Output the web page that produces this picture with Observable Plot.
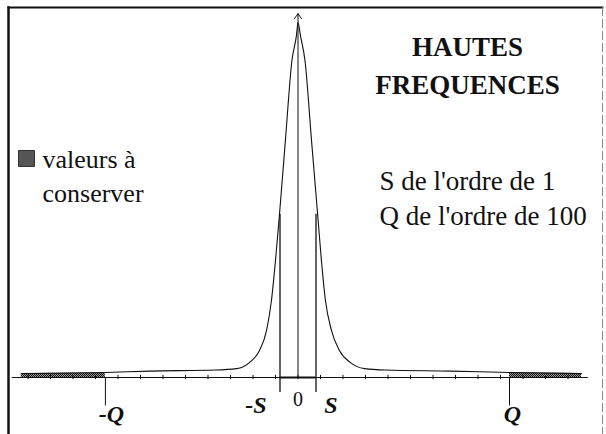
<!DOCTYPE html>
<html>
<head>
<meta charset="utf-8">
<script src="https://cdn.jsdelivr.net/npm/d3@7"></script>
<script src="https://cdn.jsdelivr.net/npm/@observablehq/plot@0.6"></script>
<style>
  html, body { margin: 0; padding: 0; background: #fff; }
</style>
</head>
<body>
<div id="chart"></div>
<script>
// Spectrum profile, x in axis-tick units, y in percent of the peak height
const curveX = [-12.3, -8.56, -6.6, -3.67, -2.73, -2.16, -1.71, -1.4, -1.18, -1.0, -0.82, -0.56, -0.27, -0.07, 0, 0.11, 0.31, 0.6, 0.87, 1.04, 1.22, 1.49, 1.84, 2.33, 2.96, 3.89, 6.8, 9.4, 12.6];
const curveY = [1.1, 1.4, 1.8, 2.1, 2.5, 4.2, 7.6, 13.2, 21.7, 33.0, 46.2, 66.8, 89.3, 96.3, 100, 96.3, 89.3, 66.8, 46.2, 33.0, 21.7, 13.2, 7.6, 4.2, 2.5, 2.1, 1.8, 1.4, 1.1];

// Cut-off markers along the axis
const markerLabels = ["-Q", "-S", "0", "S", "Q"];
const markerX = [-8.56, -0.8, 0, 0.8, 9.4];
const sHeight = 46; // curve height reached by the ±S lines

// Axis graduation
const tickValues = [-12, -11, -10, -9, -8, -7, -6, -5, -4, -3, -2, -1, 0, 1, 2, 3, 4, 5, 6, 7, 8, 9, 10, 11, 12];
const axisExtent = [-12.7, 12.9];
const arrowTop = 102.5;

// Texts
const titleLines = ["HAUTES", "FREQUENCES"];
const legendLines = ["valeurs à", "conserver"];
const noteLines = ["S de l'ordre de 1", "Q de l'ordre de 100"];

const curve = curveX.map((x, i) => ({x, y: curveY[i]}));
const qLeft = markerX[0], qRight = markerX[4];
const sLeft = markerX[1], sRight = markerX[3];
const tailLeft = curve.filter(d => d.x <= qLeft);
const tailRight = curve.filter(d => d.x >= qRight);

const serif = "'Liberation Serif', 'Times New Roman', Times, serif";
const ink = "#111";

// label placement next to each marker line: [dx in px, baseline in y units]
const markerPlacement = [[6, -12.4], [-24, -10.1], [0, -7.9], [15, -10.1], [3, -12.4]];

const markerMarks = markerLabels.map((label, i) => {
  const [dx, y] = markerPlacement[i];
  const isZero = label === "0";
  return Plot.text([{label, x: markerX[i], y}], {
    x: "x", y: "y", text: "label", dx,
    lineAnchor: "bottom", fill: ink, fontFamily: serif,
    fontSize: isZero ? 20 : 24,
    fontWeight: isZero ? "normal" : "bold",
    fontStyle: isZero ? "normal" : "italic"
  });
});

// stacked lines of free text, positioned from the top-left corner of the frame
function textBlock(lines, dx, baselines, options) {
  return lines.map((line, i) => Plot.text([line], {
    frameAnchor: "top-left", dx, dy: baselines[i], text: d => d,
    lineAnchor: "bottom", fill: ink, fontFamily: serif, ...options
  }));
}

const chart = Plot.plot({
  width: 606,
  height: 434,
  marginLeft: 8,
  marginTop: 7,
  marginRight: 4,
  marginBottom: 0,
  x: {domain: [-10, 10], range: [297.5 - 225, 297.5 + 225], axis: null},
  y: {domain: [0, 100], range: [377, 22], axis: null},
  style: {fontFamily: serif, background: "#fff", color: ink, overflow: "visible"},
  marks: [
    // page frame
    Plot.frame({anchor: "left", stroke: ink, strokeWidth: 2.5}),
    Plot.frame({anchor: "top", stroke: ink, strokeWidth: 2}),
    Plot.frame({anchor: "right", stroke: "#888", strokeWidth: 1, strokeDasharray: "8,4"}),

    // retained high-frequency tails
    Plot.areaY(tailLeft, {x: "x", y: "y", fill: "url(#dots)"}),
    Plot.areaY(tailRight, {x: "x", y: "y", fill: "url(#dots)"}),

    // horizontal axis with graduation
    Plot.ruleY([0], {x1: axisExtent[0], x2: axisExtent[1], stroke: ink, strokeWidth: 1.2}),
    Plot.ruleY([0], {x1: sLeft, x2: sRight, stroke: ink, strokeWidth: 2}),
    Plot.ruleX(tickValues, {y1: -0.6, y2: 0.6, stroke: ink, strokeWidth: 1}),

    // profile
    Plot.line(curve, {x: "x", y: "y", curve: "monotone-x", stroke: ink, strokeWidth: 1.1}),

    // vertical axis
    Plot.arrow([{x: 0}], {x1: "x", y1: 0, x2: "x", y2: arrowTop, headLength: 9, headAngle: 70, stroke: ink, strokeWidth: 1}),

    // cut-off lines
    Plot.ruleX([sLeft, sRight], {y1: -4.2, y2: sHeight, stroke: ink, strokeWidth: 1.3}),
    Plot.ruleX([qLeft, qRight], {y1: 0, y2: -8, stroke: ink, strokeWidth: 1}),

    ...markerMarks,

    // title
    ...textBlock(titleLines, 459, [48, 86], {textAnchor: "middle", fontSize: 27, fontWeight: "bold"}),

    // legend
    Plot.dot([0], {frameAnchor: "top-left", dx: 18, dy: 151, symbol: "square", r: 9, fill: "url(#dots)", stroke: ink, strokeWidth: 0.8}),
    ...textBlock(legendLines, 34, [160, 194], {textAnchor: "start", fontSize: 26}),

    // notes
    ...textBlock(noteLines, 371, [182, 217], {textAnchor: "start", fontSize: 27})
  ]
});

// fine dark dot screen used for the retained values
const defs = d3.select(chart).insert("defs", ":first-child");
const pat = defs.append("pattern").attr("id", "dots").attr("width", 2).attr("height", 2).attr("patternUnits", "userSpaceOnUse");
pat.append("rect").attr("width", 2).attr("height", 2).attr("fill", "#9a9a9a");
pat.append("rect").attr("width", 1).attr("height", 1).attr("fill", ink);
pat.append("rect").attr("x", 1).attr("y", 1).attr("width", 1).attr("height", 1).attr("fill", ink);

document.getElementById("chart").appendChild(chart);
</script>
</body>
</html>
